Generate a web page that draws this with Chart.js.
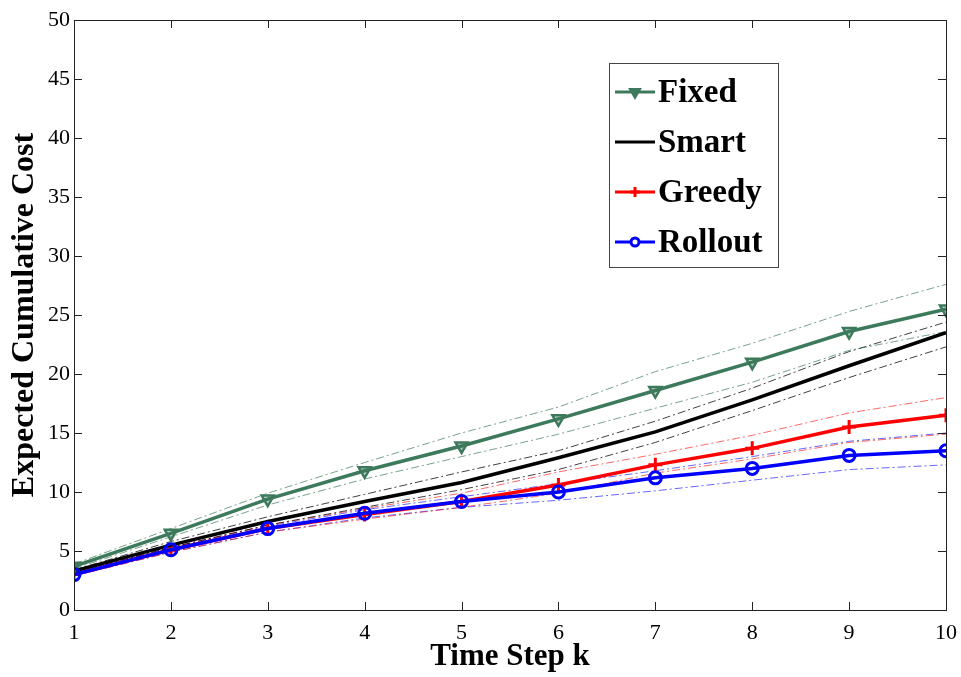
<!DOCTYPE html>
<html>
<head>
<meta charset="utf-8">
<title>Expected Cumulative Cost</title>
<script src="https://cdn.jsdelivr.net/npm/chart.js@4/dist/chart.umd.min.js"></script>
<style>
    html, body { margin: 0; padding: 0; background: #fff; }
    #wrap { width: 961px; height: 677px; }
</style>
</head>
<body>
<div id="wrap"><canvas id="costChart" width="961" height="677"></canvas></div>
<script>
// time steps on the x axis
const steps = [1, 2, 3, 4, 5, 6, 7, 8, 9, 10];
const yTicks = [0, 5, 10, 15, 20, 25, 30, 35, 40, 45, 50];

// mean expected cumulative cost per policy
const fixedCost   = [3.7, 6.5, 9.4, 11.8, 13.9, 16.2, 18.6, 21.0, 23.6, 25.5];
const smartCost   = [3.3, 5.5, 7.5, 9.2, 10.8, 12.9, 15.1, 17.8, 20.7, 23.5];
const greedyCost  = [3.0, 5.1, 6.9, 8.1, 9.2, 10.6, 12.3, 13.7, 15.5, 16.5];
const rolloutCost = [3.0, 5.1, 6.9, 8.2, 9.2, 10.0, 11.2, 12.0, 13.1, 13.5];

// upper / lower confidence bands (dash-dot lines)
const fixedUpper   = [3.9, 6.9, 9.9, 12.5, 15.0, 17.2, 20.2, 22.6, 25.3, 27.6];
const fixedLower   = [3.5, 6.2, 8.9, 11.1, 13.0, 14.9, 17.1, 19.3, 22.0, 23.6];
const smartUpper   = [3.4, 5.8, 7.9, 9.8, 11.7, 13.5, 16.0, 18.8, 21.9, 24.4];
const smartLower   = [3.2, 5.3, 7.2, 8.7, 10.2, 11.9, 14.2, 16.9, 19.7, 22.3];
const greedyUpper  = [3.1, 5.3, 7.2, 8.6, 9.9, 11.7, 13.2, 14.8, 16.7, 18.0];
const greedyLower  = [2.9, 4.9, 6.6, 7.7, 8.7, 9.9, 11.6, 12.8, 14.2, 14.9];
const rolloutUpper = [3.1, 5.3, 7.1, 8.5, 9.6, 10.7, 11.8, 13.0, 14.3, 15.0];
const rolloutLower = [2.9, 4.9, 6.6, 7.8, 8.7, 9.3, 10.1, 11.0, 11.9, 12.3];

const GREEN = '#3d7a5c';
const FONT = "'Liberation Serif', 'Times New Roman', serif";

const toPoints = values => values.map((v, i) => ({ x: steps[i], y: v }));

function band(values, color) {
    return {
        label: '',
        data: toPoints(values),
        borderColor: color,
        borderWidth: 1,
        borderDash: [8, 3, 2, 3],
        pointRadius: 0,
        fill: false,
        tension: 0,
        order: 5
    };
}

function mainLine(label, values, color, point, order) {
    return Object.assign({
        label: label,
        inLegend: true,
        data: toPoints(values),
        borderColor: color,
        backgroundColor: color,
        borderWidth: 3.5,
        pointBorderColor: color,
        pointBackgroundColor: 'rgba(0,0,0,0)',
        pointBorderWidth: 2.5,
        fill: false,
        tension: 0,
        order: order
    }, point);
}

// legend box drawn inside the plot area, like the original figure
const boxLegend = {
    id: 'boxLegend',
    afterDraw(chart) {
        const ctx = chart.ctx;
        const items = chart.data.datasets.filter(d => d.inLegend);
        const left = 609, top = 63, width = 169, rowH = 50;
        ctx.save();
        ctx.fillStyle = '#fff';
        ctx.fillRect(left, top, width, rowH * items.length + 4);
        ctx.strokeStyle = '#444';
        ctx.lineWidth = 1;
        ctx.strokeRect(left + 0.5, top + 0.5, width, rowH * items.length + 4);
        items.forEach((d, i) => {
            const y = top + 29 + i * rowH;
            ctx.strokeStyle = d.borderColor;
            ctx.lineWidth = 3;
            ctx.setLineDash([]);
            ctx.beginPath();
            ctx.moveTo(615, y);
            ctx.lineTo(655, y);
            ctx.stroke();
            if (d.pointRadius > 0) {
                // filled triangle in the legend, hollow circle
                ctx.fillStyle = d.pointStyle === 'triangle' ? d.borderColor : '#fff';
                ctx.strokeStyle = d.borderColor;
                Chart.helpers.drawPoint(ctx, {
                    pointStyle: d.pointStyle,
                    rotation: d.pointRotation || 0,
                    radius: d.pointStyle === 'circle' ? 4 : 5,
                    borderWidth: 2
                }, 635, y);
            }
            ctx.fillStyle = '#000';
            ctx.font = 'bold 33px ' + FONT;
            ctx.textBaseline = 'middle';
            ctx.textAlign = 'left';
            ctx.fillText(d.label, 658, y + 1);
        });
        ctx.restore();
    }
};

// matlab-style box with inward ticks on all four sides
const boxAxes = {
    id: 'boxAxes',
    afterDatasetsDraw(chart) {
        const { ctx, chartArea: a, scales } = chart;
        ctx.save();
        ctx.strokeStyle = '#222';
        ctx.lineWidth = 1;
        ctx.setLineDash([]);
        ctx.beginPath();
        scales.x.ticks.forEach(t => {
            const px = Math.round(scales.x.getPixelForValue(t.value)) + 0.5;
            ctx.moveTo(px, a.bottom); ctx.lineTo(px, a.bottom - 8);
            ctx.moveTo(px, a.top); ctx.lineTo(px, a.top + 8);
        });
        scales.y.ticks.forEach(t => {
            const py = Math.round(scales.y.getPixelForValue(t.value)) + 0.5;
            ctx.moveTo(a.left, py); ctx.lineTo(a.left + 8, py);
            ctx.moveTo(a.right, py); ctx.lineTo(a.right - 8, py);
        });
        ctx.stroke();
        ctx.strokeRect(Math.round(a.left) + 0.5, Math.round(a.top) + 0.5,
            Math.round(a.right - a.left), Math.round(a.bottom - a.top));
        ctx.restore();
    }
};

new Chart(document.getElementById('costChart'), {
    type: 'line',
    data: {
        datasets: [
            mainLine('Fixed', fixedCost, GREEN, { pointStyle: 'triangle', pointRotation: 180, pointRadius: 7, pointBackgroundColor: 'rgba(61,122,92,0.35)' }, 1),
            mainLine('Smart', smartCost, '#000000', { pointRadius: 0 }, 1),
            mainLine('Greedy', greedyCost, '#ff0000', { pointStyle: 'cross', pointRadius: 7, pointBorderWidth: 3 }, 1),
            mainLine('Rollout', rolloutCost, '#0000ff', { pointStyle: 'circle', pointRadius: 6, pointBorderWidth: 3 }, 0),
            band(fixedUpper, 'rgba(61,122,92,0.7)'),
            band(fixedLower, 'rgba(61,122,92,0.7)'),
            band(smartUpper, 'rgba(0,0,0,0.75)'),
            band(smartLower, 'rgba(0,0,0,0.75)'),
            band(greedyUpper, 'rgba(255,0,0,0.6)'),
            band(greedyLower, 'rgba(255,0,0,0.6)'),
            band(rolloutUpper, 'rgba(0,0,255,0.6)'),
            band(rolloutLower, 'rgba(0,0,255,0.6)')
        ]
    },
    options: {
        responsive: false,
        animation: false,
        devicePixelRatio: 1,
        layout: { padding: { top: 20, right: 0, left: 0, bottom: 0 } },
        plugins: {
            legend: { display: false },
            tooltip: { enabled: false }
        },
        scales: {
            x: {
                type: 'linear',
                min: steps[0],
                max: steps[steps.length - 1],
                afterBuildTicks: s => { s.ticks = steps.map(v => ({ value: v })); },
                afterFit: s => { s.height = 67; s.paddingRight = 15; },
                grid: { display: false, drawTicks: false },
                border: { display: false },
                ticks: { color: '#000', padding: 10, font: { family: FONT, size: 22 } },
                title: {
                    display: true,
                    text: 'Time Step k',
                    color: '#000',
                    padding: { top: 0, bottom: 1 },
                    font: { family: FONT, size: 31, weight: 'bold' }
                }
            },
            y: {
                min: yTicks[0],
                max: yTicks[yTicks.length - 1],
                afterBuildTicks: s => { s.ticks = yTicks.map(v => ({ value: v })); },
                afterFit: s => { s.width = 74; },
                grid: { display: false, drawTicks: false },
                border: { display: false },
                ticks: { color: '#000', padding: 4, font: { family: FONT, size: 22 } },
                title: {
                    display: true,
                    text: 'Expected Cumulative Cost',
                    color: '#000',
                    padding: { top: 6, bottom: 0 },
                    font: { family: FONT, size: 32, weight: 'bold' }
                }
            }
        }
    },
    plugins: [boxAxes, boxLegend]
});
</script>
</body>
</html>
